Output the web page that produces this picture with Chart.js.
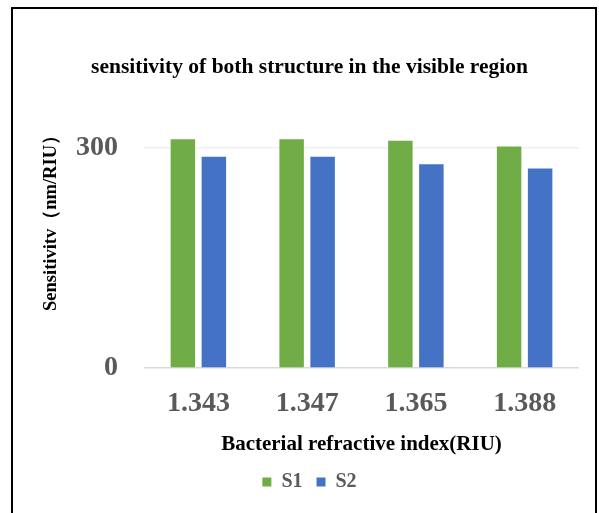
<!DOCTYPE html>
<html>
<head>
<meta charset="utf-8">
<script src="https://cdn.jsdelivr.net/npm/chart.js@4/dist/chart.umd.min.js"></script>
<style>
  html, body { margin: 0; padding: 0; background: #fff; }
  #wrap { position: relative; width: 599px; height: 513px; overflow: hidden; }
  #frame { position: absolute; left: 11px; top: 7px; width: 586px; height: 530px; box-sizing: border-box; border: 2px solid #000; pointer-events: none; }
  canvas { position: absolute; left: 0; top: 0; }
</style>
</head>
<body>
<div id="wrap">
  <canvas id="c" width="599" height="513"></canvas>
  <div id="frame"></div>
</div>
<script>
const categories = ['1.343', '1.347', '1.365', '1.388'];
const s1Values = [312, 312, 310, 302];
const s2Values = [288, 288, 278, 272];
const yTickValues = [0, 300];

const serif = "'Liberation Serif', 'Times New Roman', 'Noto Serif', serif";
const gray = '#595959';

new Chart(document.getElementById('c'), {
  type: 'bar',
  data: {
    labels: categories,
    datasets: [
      { label: 'S1', data: s1Values, backgroundColor: '#70AD47' },
      { label: 'S2', data: s2Values, backgroundColor: '#4472C4' }
    ]
  },
  options: {
    responsive: false,
    animation: false,
    layout: { padding: { top: 0, left: 40, right: 20, bottom: 11 } },
    datasets: { bar: { categoryPercentage: 0.57, barPercentage: 0.79 } },
    plugins: {
      tooltip: { enabled: false },
      title: {
        display: true,
        text: 'sensitivity of both structure in the visible region',
        color: '#000',
        font: { family: serif, size: 21.5, weight: 'bold', lineHeight: 1.2 },
        padding: { top: 54.5, bottom: 45.7 }
      },
      legend: {
        position: 'bottom',
        labels: {
          boxWidth: 9,
          boxHeight: 9,
          padding: 14,
          color: gray,
          font: { family: serif, size: 20, weight: 'bold' }
        }
      }
    },
    scales: {
      x: {
        afterFit: (scale) => { scale.height = 90; },
        grid: { display: false, drawTicks: false },
        border: { display: false },
        ticks: {
          color: gray,
          padding: 19,
          font: { family: serif, size: 28, weight: 'bold', lineHeight: 1.2 }
        },
        title: {
          display: true,
          text: 'Bacterial refractive index(RIU)',
          color: '#000',
          font: { family: serif, size: 21, weight: 'bold', lineHeight: 1.2 },
          padding: { top: 0, bottom: 1 }
        }
      },
      y: {
        min: 0,
        max: 330,
        afterBuildTicks: (scale) => { scale.ticks = yTickValues.map(v => ({ value: v })); },
        afterFit: (scale) => { scale.width = 104; },
        grid: {
          drawTicks: false,
          color: (ctx) => (ctx.tick && ctx.tick.value === 0 ? '#D9D9D9' : '#F0F0F0'),
          lineWidth: 1.5
        },
        border: { display: false },
        ticks: {
          color: gray,
          padding: 26,
          font: { family: serif, size: 28, weight: 'bold', lineHeight: 1.2 }
        },
        title: {
          display: true,
          text: 'Sensitivitv（nm/RIU）',
          align: 'end',
          color: '#000',
          font: { family: serif, size: 18.5, weight: 'bold', lineHeight: 1.2 },
          padding: { top: 0.5, bottom: 0 }
        }
      }
    }
  }
});
</script>
</body>
</html>
